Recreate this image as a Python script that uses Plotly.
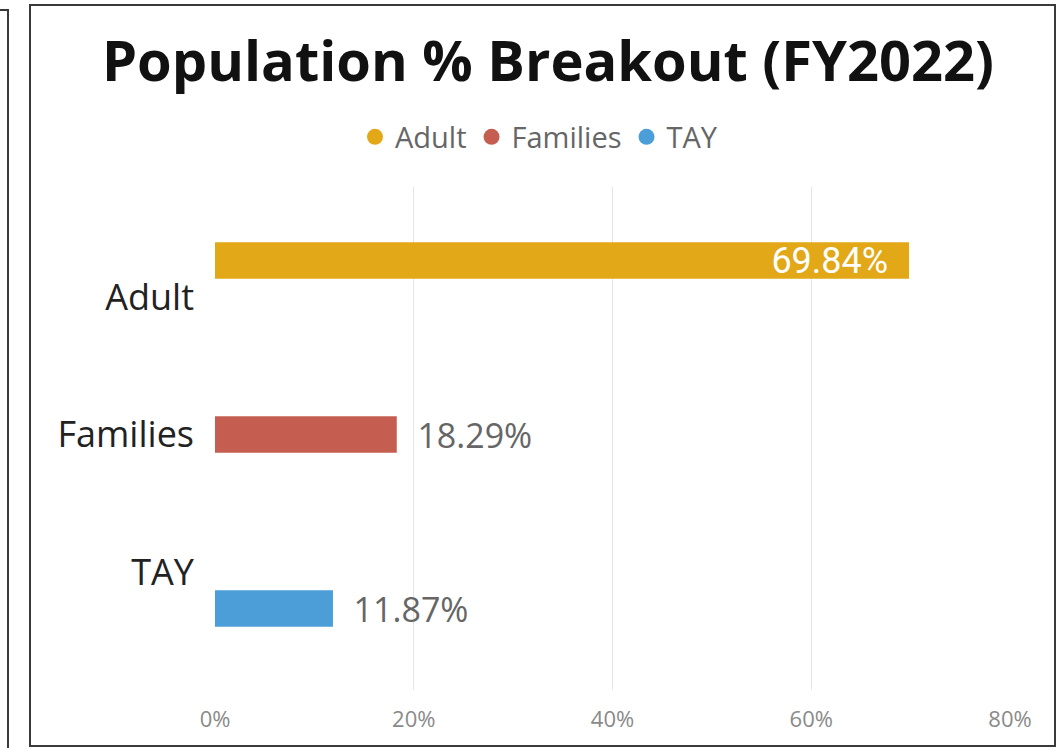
import plotly.graph_objects as go

# ---- data ----
categories = ["Adult", "Families", "TAY"]
values = [69.84, 18.29, 11.87]
colors = ["#E2A817", "#C55E50", "#4C9ED9"]
x_ticks = [0, 20, 40, 60, 80]
x_tick_labels = ["0%", "20%", "40%", "60%", "80%"]
title_text = "Population % Breakout (FY2022)"

W, H = 1060, 748
L, R, T, B = 215, 50, 187, 58
pw, ph = W - L - R, H - T - B

def px(x):
    return (x - L) / pw

def py(y):
    return (H - B - y) / ph

NB = "\u00a0"
fig = go.Figure()
for i, (cat, val, col) in enumerate(zip(categories, values, colors)):
    inside = val > 50
    txt = f"{val:.2f}%" + NB * 2 if inside else NB * 2 + f"{val:.2f}%"
    fig.add_trace(go.Bar(
        y=[cat], x=[val], orientation="h", name=cat,
        offsetgroup=str(i),
        marker=dict(color=col, line=dict(width=0)),
        text=[txt], textposition="inside" if inside else "outside",
        insidetextanchor="end",
        textfont=dict(family="Roboto" if inside else "Open Sans",
                      size=36 if inside else 34,
                      color="#FFFFFF" if inside else "#666666"),
        constraintext="none", cliponaxis=False,
        showlegend=False, hoverinfo="skip",
    ))
    # legend entry with circular marker
    fig.add_trace(go.Scatter(
        x=[None], y=[None], mode="markers", name=cat,
        marker=dict(color=col, size=21, symbol="circle"),
        showlegend=True,
    ))

shapes = [
    # main card frame
    dict(type="rect", xref="paper", yref="paper",
         x0=px(30), x1=px(1055), y0=py(746), y1=py(5),
         line=dict(color="#3a3a3a", width=2), fillcolor="rgba(0,0,0,0)", layer="below"),
    # left neighbour frame edge
    dict(type="path", xref="paper", yref="paper",
         path=f"M {px(-5)},{py(10)} L {px(8)},{py(10)} L {px(8)},{py(760)}",
         line=dict(color="#3a3a3a", width=2)),
]

fig.update_layout(
    width=W, height=H,
    margin=dict(l=L, r=R, t=T, b=B, autoexpand=False),
    paper_bgcolor="white", plot_bgcolor="white",
    barmode="group", bargap=0.204, bargroupgap=0,
    title=dict(text=f"<b>{title_text}</b>", x=548 / W, xanchor="center",
               xref="container", yref="container", y=1 - 61 / H, yanchor="middle",
               font=dict(family="Open Sans", size=56, color="#111111")),
    legend=dict(orientation="h", xref="container", yref="container",
                x=539 / W, xanchor="center", y=1 - 137 / H, yanchor="middle",
                font=dict(family="Open Sans", size=29, color="#666666"),
                itemwidth=30, tracegroupgap=0, bgcolor="rgba(0,0,0,0)"),
    xaxis=dict(range=[0, 80], tickvals=x_ticks, ticktext=x_tick_labels,
               showgrid=True, gridcolor="#E6E6E6", gridwidth=1,
               zeroline=False, showline=False, ticks="",
               ticklabelstandoff=14,
               tickfont=dict(family="Open Sans", size=22, color="#8A8A8A")),
    yaxis=dict(type="category", categoryorder="array", categoryarray=categories,
               range=[2.858, -0.8], showgrid=False, zeroline=False, showline=False,
               ticks="", ticklabelstandoff=20,
               tickfont=dict(family="Open Sans", size=36, color="#222222")),
    shapes=shapes,
)

fig.write_html("out.html", config={"displayModeBar": False},
               post_script="document.body.style.margin='0';")
